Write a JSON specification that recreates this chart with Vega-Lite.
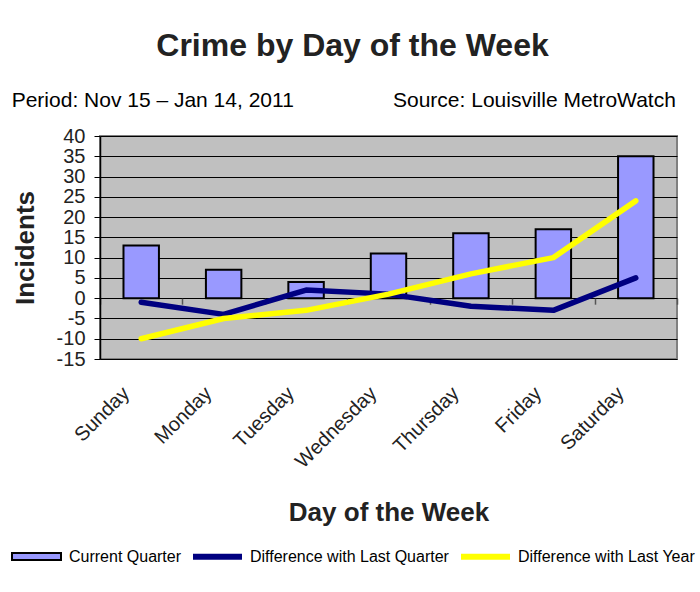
{
  "$schema": "https://vega.github.io/schema/vega-lite/v6.json",
  "autosize": {"type": "none"},
  "width": 577,
  "height": 223,
  "padding": {"left": 100, "top": 136, "right": 23, "bottom": 233},
  "background": "white",
  "title": {
    "text": "Crime by Day of the Week",
    "subtitle": "Period: Nov 15 – Jan 14, 2011\u00a0\u00a0\u00a0\u00a0\u00a0\u00a0\u00a0\u00a0\u00a0\u00a0\u00a0\u00a0\u00a0\u00a0\u00a0\u00a0\u00a0Source: Louisville MetroWatch\u00a0\u00a0\u00a0\u200b",
    "anchor": "middle",
    "frame": "group",
    "dx": -36,
    "font": "Liberation Sans",
    "fontSize": 32,
    "fontWeight": "bold",
    "color": "#222",
    "subtitleFont": "Liberation Sans",
    "subtitleFontSize": 21,
    "subtitleColor": "#000",
    "subtitlePadding": 27,
    "offset": 14
  },
  "config": {
    "view": {"fill": "#C0C0C0", "stroke": "#808080", "strokeWidth": 2},
    "font": "Liberation Sans"
  },
  "data": {
    "values": [
      {"day": "Sunday", "series": "Current Quarter", "value": 13},
      {"day": "Monday", "series": "Current Quarter", "value": 7},
      {"day": "Tuesday", "series": "Current Quarter", "value": 4},
      {"day": "Wednesday", "series": "Current Quarter", "value": 11},
      {"day": "Thursday", "series": "Current Quarter", "value": 16},
      {"day": "Friday", "series": "Current Quarter", "value": 17},
      {"day": "Saturday", "series": "Current Quarter", "value": 35},
      {"day": "Sunday", "series": "Difference with Last Quarter", "value": -1},
      {"day": "Monday", "series": "Difference with Last Quarter", "value": -4},
      {"day": "Tuesday", "series": "Difference with Last Quarter", "value": 2},
      {"day": "Wednesday", "series": "Difference with Last Quarter", "value": 1},
      {"day": "Thursday", "series": "Difference with Last Quarter", "value": -2},
      {"day": "Friday", "series": "Difference with Last Quarter", "value": -3},
      {"day": "Saturday", "series": "Difference with Last Quarter", "value": 5},
      {"day": "Sunday", "series": "Difference with Last Year", "value": -10},
      {"day": "Monday", "series": "Difference with Last Year", "value": -5},
      {"day": "Tuesday", "series": "Difference with Last Year", "value": -3},
      {"day": "Wednesday", "series": "Difference with Last Year", "value": 1},
      {"day": "Thursday", "series": "Difference with Last Year", "value": 6},
      {"day": "Friday", "series": "Difference with Last Year", "value": 10},
      {"day": "Saturday", "series": "Difference with Last Year", "value": 24}
    ]
  },
  "layer": [
    {
      "transform": [{"filter": "datum.series === 'Current Quarter'"}],
      "mark": {"type": "bar", "width": {"band": 0.43}, "stroke": "#000", "strokeWidth": 2},
      "encoding": {
        "x": {
          "field": "day", "type": "nominal",
          "sort": ["Sunday", "Monday", "Tuesday", "Wednesday", "Thursday", "Friday", "Saturday"],
          "scale": {"type": "band", "paddingInner": 0, "paddingOuter": 0},
          "axis": {
            "orient": "bottom", "title": "Day of the Week", "labelAngle": -45, "labelFontSize": 20,
            "labelColor": "#222", "labelPadding": 31, "labelOffset": -15, "ticks": false, "domain": false, "grid": false,
            "titleFontSize": 26, "titleFontWeight": "bold", "titleColor": "#222", "titlePadding": 28,
            "labelAlign": "right", "labelBaseline": "middle"
          }
        },
        "y": {
          "field": "value", "type": "quantitative", "title": "Incidents",
          "scale": {"domain": [-15, 40], "nice": false, "zero": false},
          "axis": {
            "values": [-15, -10, -5, 0, 5, 10, 15, 20, 25, 30, 35, 40],
            "labelExpr": "'' + datum.value",
            "grid": true, "gridColor": "#000", "gridWidth": 1, "gridOpacity": 1,
            "domainColor": "#000", "domainWidth": 1.5, "tickColor": "#000", "tickSize": 6,
            "labelFontSize": 20, "labelColor": "#222", "labelPadding": 9,
            "titleFontSize": 26, "titleFontWeight": "bold", "titleColor": "#222", "titlePadding": 18
          }
        },
        "fill": {
          "field": "series", "type": "nominal",
          "scale": {"domain": ["Current Quarter"], "range": ["#9999FF"]},
          "legend": {
            "orient": "none", "legendX": -89, "legendY": 395, "direction": "horizontal",
            "title": null, "labelFontSize": 16, "labelColor": "#000", "labelLimit": 0,
            "symbolSize": 2401, "symbolType": "M-1,-0.14H1V0.14H-1Z", "symbolStrokeColor": "#000",
            "symbolStrokeWidth": 2, "symbolOpacity": 1, "labelOffset": 7, "padding": 0
          }
        }
      }
    },
    {
      "transform": [{"filter": "datum.series !== 'Current Quarter'"}],
      "mark": {"type": "line", "strokeWidth": 5.5, "strokeCap": "round", "strokeJoin": "round"},
      "encoding": {
        "x": {
          "field": "day", "type": "nominal",
          "sort": ["Sunday", "Monday", "Tuesday", "Wednesday", "Thursday", "Friday", "Saturday"],
          "axis": {
            "orient": "top", "offset": -162.18, "title": null, "labels": false, "domain": false,
            "grid": false, "ticks": true, "tickBand": "extent", "tickSize": -6, "tickColor": "#555", "tickWidth": 1.5
          }
        },
        "y": {
          "field": "value", "type": "quantitative", "title": "Incidents",
          "axis": {
            "values": [-15, -10, -5, 0, 5, 10, 15, 20, 25, 30, 35, 40],
            "labelExpr": "'' + datum.value",
            "grid": true, "gridColor": "#000", "gridWidth": 1, "gridOpacity": 1,
            "domainColor": "#000", "domainWidth": 1.5, "tickColor": "#000", "tickSize": 6,
            "labelFontSize": 20, "labelColor": "#222", "labelPadding": 9,
            "titleFontSize": 26, "titleFontWeight": "bold", "titleColor": "#222", "titlePadding": 18
          }
        },
        "stroke": {
          "field": "series", "type": "nominal",
          "scale": {"domain": ["Difference with Last Quarter", "Difference with Last Year"], "range": ["#000080", "#FFFF00"]},
          "legend": {
            "orient": "none", "legendX": 90, "legendY": 393, "direction": "horizontal", "columns": 2,
            "title": null, "labelFontSize": 16, "labelColor": "#000", "labelLimit": 0,
            "symbolSize": 2401, "symbolType": "stroke", "symbolStrokeWidth": 6, "symbolOpacity": 1,
            "labelOffset": 5, "columnPadding": 0, "padding": 0
          }
        }
      }
    }
  ],
  "resolve": {"axis": {"x": "independent"}}
}
